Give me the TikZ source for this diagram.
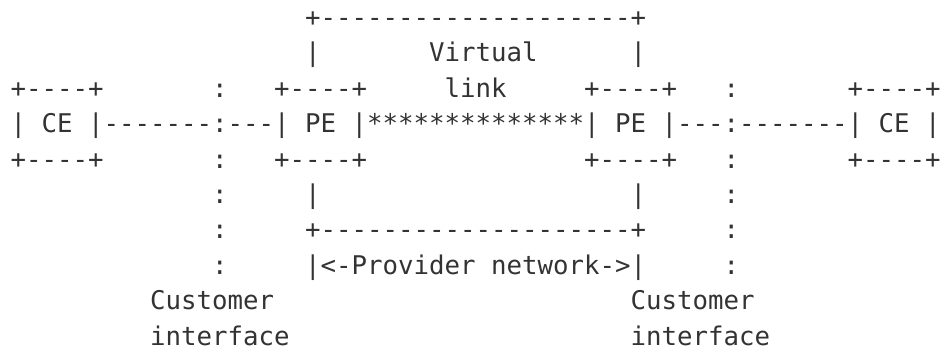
\documentclass[tikz,border=0pt]{standalone}
\usepackage{fontspec}
\setmonofont{DejaVu Sans Mono}
\definecolor{ink}{HTML}{333333}
\newcommand\asc[4]{\node[asciitxt,name=#1] at ({(10.55+15.5*#2)*0.75pt},{(350-(26.5+35.4*(#3-1)))*0.75pt}) {#4};}
\tikzset{asciitxt/.style={anchor=base west,inner sep=0pt,outer sep=0pt,text=ink,
  font=\ttfamily\fontsize{19.31pt}{19.31pt}\selectfont}}
\begin{document}
\begin{tikzpicture}
\useasboundingbox (0,0) rectangle (708pt,262.5pt);
% row 1-2: virtual link box top
\asc{vtop}{19}{1}{+--------------------+}
\asc{vl}{19}{2}{|}
\asc{vtxt}{27}{2}{Virtual}
\asc{vr}{40}{2}{|}
% row 3
\asc{ceLt}{0}{3}{+----+}
\asc{cLa}{13}{3}{:}
\asc{peLt}{17}{3}{+----+}
\asc{ltxt}{28}{3}{link}
\asc{peRt}{37}{3}{+----+}
\asc{cRa}{46}{3}{:}
\asc{ceRt}{54}{3}{+----+}
% row 4
\asc{ceL}{0}{4}{| CE |}
\asc{l1}{6}{4}{-------}
\asc{cLb}{13}{4}{:}
\asc{l2}{14}{4}{---}
\asc{peL}{17}{4}{| PE |}
\asc{stars}{23}{4}{**************}
\asc{peR}{37}{4}{| PE |}
\asc{l3}{43}{4}{---}
\asc{cRb}{46}{4}{:}
\asc{l4}{47}{4}{-------}
\asc{ceR}{54}{4}{| CE |}
% row 5
\asc{ceLb}{0}{5}{+----+}
\asc{cLc}{13}{5}{:}
\asc{peLb}{17}{5}{+----+}
\asc{peRb}{37}{5}{+----+}
\asc{cRc}{46}{5}{:}
\asc{ceRb}{54}{5}{+----+}
% row 6
\asc{cLd}{13}{6}{:}
\asc{pl}{19}{6}{|}
\asc{pr}{40}{6}{|}
\asc{cRd}{46}{6}{:}
% row 7
\asc{cLe}{13}{7}{:}
\asc{pbot}{19}{7}{+--------------------+}
\asc{cRe}{46}{7}{:}
% row 8
\asc{cLf}{13}{8}{:}
\asc{prov}{19}{8}{|<-Provider network->|}
\asc{cRf}{46}{8}{:}
% rows 9-10
\asc{custL}{9}{9}{Customer}
\asc{custR}{40}{9}{Customer}
\asc{ifL}{9}{10}{interface}
\asc{ifR}{40}{10}{interface}
\end{tikzpicture}
\end{document}
